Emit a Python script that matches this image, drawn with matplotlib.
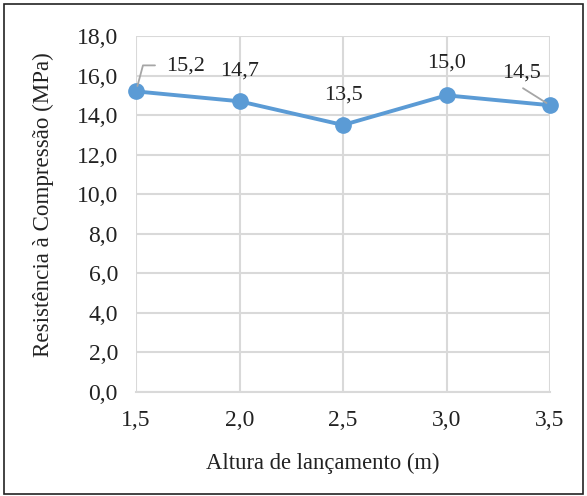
import matplotlib
matplotlib.use("Agg")
import matplotlib.pyplot as plt
from matplotlib.patches import Rectangle

alturas = [1.5, 2.0, 2.5, 3.0, 3.5]
resistencia = [15.2, 14.7, 13.5, 15.0, 14.5]
rotulos = ["15,2", "14,7", "13,5", "15,0", "14,5"]
yticks = [0, 2, 4, 6, 8, 10, 12, 14, 16, 18]
xticks = [1.5, 2.0, 2.5, 3.0, 3.5]

plt.rcParams['font.family'] = ['Liberation Serif', 'DejaVu Serif']

W, H = 587, 496
fig = plt.figure(figsize=(W/100, H/100), dpi=100)
ax = fig.add_axes([136/W, 1-392/H, (550-136)/W, (392-36)/H])

color = '#5b9bd5'
ax.plot(alturas, resistencia, color=color, lw=2.8, marker='o', ms=11, zorder=3, clip_on=False)

ax.set_xlim(1.5, 3.5)
ax.set_ylim(0, 18)
ax.set_xticks(xticks)
ax.set_yticks(yticks)
ax.set_xticklabels([f"{v:.1f}".replace('.', ',') for v in xticks])
ax.set_yticklabels([f"{v:.1f}".replace('.', ',') for v in yticks])
ax.grid(True, color='#d9d9d9', lw=1.5)
ax.set_axisbelow(True)
for s in ['top', 'right', 'left']:
    ax.spines[s].set_visible(False)
ax.spines['bottom'].set_color('#d9d9d9')
ax.spines['bottom'].set_linewidth(1.5)
ax.tick_params(length=0, labelsize=17, colors='#222222')
ax.tick_params(axis='y', pad=13)
ax.tick_params(axis='x', pad=13)

fig.text(323/W, 1-463/H, "Altura de lançamento (m)", fontsize=16.3, color='#222222',
         ha='center', va='center')
fig.text(43/W, 1-205/H, "Resistência à Compressão (MPa)", fontsize=16.6, color='#222222',
         ha='center', va='center', rotation=90)

px = 0.72
# data labels (offsets in pixels)
offsets = [(50, 25), (0, 30), (0, 30), (0, 32), (-28, 32)]
for i, (x, y, t) in enumerate(zip(alturas, resistencia, rotulos)):
    dx, dy = offsets[i]
    ax.annotate(t, (x, y), xytext=(dx*px, dy*px), textcoords='offset points',
                ha='center', va='center', fontsize=16, color='#222222', zorder=5,
                annotation_clip=False)

# leader lines
ax.annotate("", xy=(alturas[0], resistencia[0]), xytext=(19*px, 26*px), textcoords='offset points',
            arrowprops=dict(arrowstyle='-', color='#a6a6a6', lw=1.3,
                            connectionstyle='angle,angleA=0,angleB=75,rad=0', shrinkA=0, shrinkB=4),
            annotation_clip=False)
ax.annotate("", xy=(alturas[4], resistencia[4]), xytext=(-27*px, 17*px), textcoords='offset points',
            arrowprops=dict(arrowstyle='-', color='#a6a6a6', lw=1.3, shrinkA=0, shrinkB=3),
            annotation_clip=False)

fig.patches.append(Rectangle((4/W, 1-494/H), (583-4)/W, (494-4)/H, transform=fig.transFigure,
                             fill=False, edgecolor='#222222', lw=1.2))

fig.savefig("out.png", dpi=100)
